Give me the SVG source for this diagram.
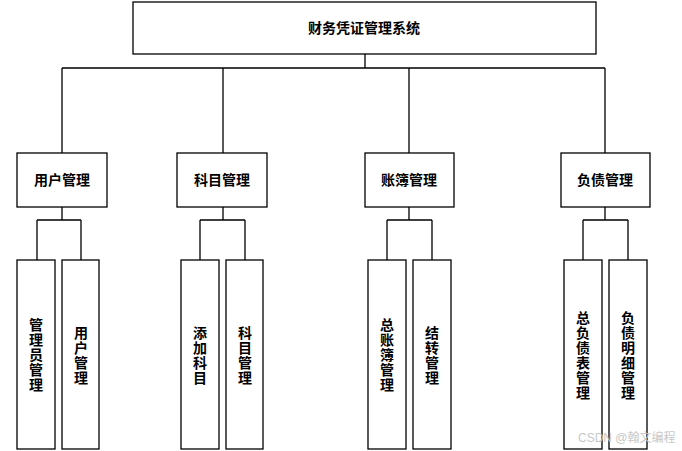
<svg xmlns="http://www.w3.org/2000/svg" width="682" height="451" viewBox="0 0 682 451">
<style>
.box{fill:#fff;stroke:#000;stroke-width:1.3}
.ln{fill:none;stroke:#000;stroke-width:1.3}
.t{font-family:"Liberation Serif","Noto Sans CJK SC",serif;font-size:14px;font-weight:bold;fill:#000;text-anchor:middle;dominant-baseline:central}
.wm{font-family:"Liberation Sans","Noto Sans CJK SC",sans-serif;font-size:12px;fill:#c8c8c8}
</style>
<rect width="682" height="451" fill="#fff"/>
<g id="connectors">
<path class="ln" d="M365 54V68M62 68H605M62 68V153M223 68V153M409 68V153M605 68V153"/>
<path class="ln" d="M62 207V220M37 220H81M37 220V260M81 220V260"/>
<path class="ln" d="M223 207V220M200 220H245M200 220V260M245 220V260"/>
<path class="ln" d="M409 207V220M387 220H432M387 220V260M432 220V260"/>
<path class="ln" d="M605 207V220M583 220H628M583 220V260M628 220V260"/>
</g>
<g id="root"><rect class="box" x="133" y="2" width="463" height="52"/><text class="t" x="364" y="28">财务凭证管理系统</text></g>
<g id="n-user"><rect class="box" x="17" y="153" width="90" height="54"/><text class="t" x="62" y="180">用户管理</text></g>
<g id="n-subject"><rect class="box" x="177" y="153" width="90" height="54"/><text class="t" x="222" y="180">科目管理</text></g>
<g id="n-ledger"><rect class="box" x="365" y="153" width="89" height="54"/><text class="t" x="409" y="180">账簿管理</text></g>
<g id="n-debt"><rect class="box" x="561" y="153" width="89" height="54"/><text class="t" x="605" y="180">负债管理</text></g>
<g id="l-admin"><rect class="box" x="17" y="260" width="38" height="189"/><text class="t" x="36"><tspan x="36" y="325">管</tspan><tspan x="36" y="340">理</tspan><tspan x="36" y="355">员</tspan><tspan x="36" y="370">管</tspan><tspan x="36" y="385">理</tspan></text></g>
<g id="l-usermgr"><rect class="box" x="62" y="260" width="37" height="189"/><text class="t" x="81"><tspan x="81" y="333">用</tspan><tspan x="81" y="348">户</tspan><tspan x="81" y="363">管</tspan><tspan x="81" y="378">理</tspan></text></g>
<g id="l-addsubj"><rect class="box" x="181" y="260" width="38" height="189"/><text class="t" x="200"><tspan x="200" y="333">添</tspan><tspan x="200" y="348">加</tspan><tspan x="200" y="363">科</tspan><tspan x="200" y="378">目</tspan></text></g>
<g id="l-subjmgr"><rect class="box" x="226" y="260" width="37" height="189"/><text class="t" x="245"><tspan x="245" y="333">科</tspan><tspan x="245" y="348">目</tspan><tspan x="245" y="363">管</tspan><tspan x="245" y="378">理</tspan></text></g>
<g id="l-gl"><rect class="box" x="368" y="260" width="38" height="189"/><text class="t" x="387"><tspan x="387" y="325">总</tspan><tspan x="387" y="340">账</tspan><tspan x="387" y="355">簿</tspan><tspan x="387" y="370">管</tspan><tspan x="387" y="385">理</tspan></text></g>
<g id="l-transfer"><rect class="box" x="413" y="260" width="38" height="189"/><text class="t" x="432"><tspan x="432" y="333">结</tspan><tspan x="432" y="348">转</tspan><tspan x="432" y="363">管</tspan><tspan x="432" y="378">理</tspan></text></g>
<g id="l-balance"><rect class="box" x="564" y="260" width="38" height="189"/><text class="t" x="583"><tspan x="583" y="318">总</tspan><tspan x="583" y="333">负</tspan><tspan x="583" y="348">债</tspan><tspan x="583" y="363">表</tspan><tspan x="583" y="378">管</tspan><tspan x="583" y="393">理</tspan></text></g>
<g id="l-detail"><rect class="box" x="609" y="260" width="38" height="189"/><text class="t" x="628"><tspan x="628" y="318">负</tspan><tspan x="628" y="333">债</tspan><tspan x="628" y="348">明</tspan><tspan x="628" y="363">细</tspan><tspan x="628" y="378">管</tspan><tspan x="628" y="393">理</tspan></text></g>
<text class="wm" x="578" y="442">CSDN @翰文编程</text>
</svg>
